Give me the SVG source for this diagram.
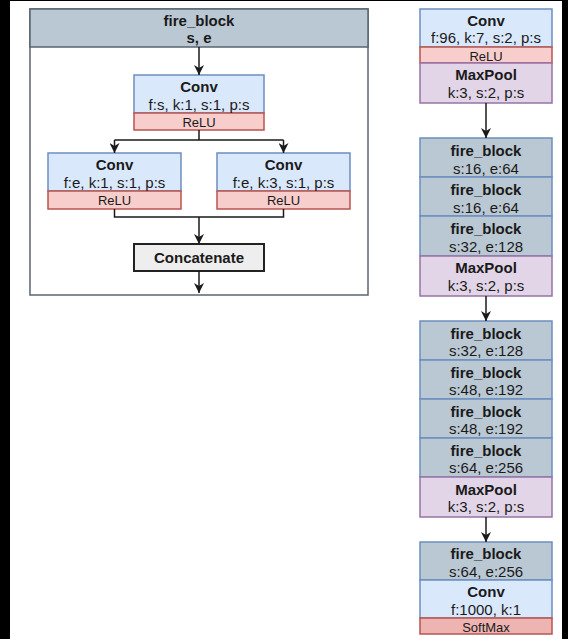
<svg xmlns="http://www.w3.org/2000/svg" width="568" height="639" viewBox="0 0 568 639">
  <style>
    text { font-family: "Liberation Sans", Arial, sans-serif; fill: #1a1a1a; text-anchor: middle; }
    .t { font-size: 15px; }
    .b { font-size: 15px; font-weight: bold; }
    .s { font-size: 13px; }
    .conv { fill: #dae8fc; stroke: #6c8ebf; stroke-width: 1.5; }
    .act { fill: #f8cecc; stroke: #b85450; stroke-width: 1.5; }
    .soft { fill: #eeb4b2; stroke: #b85450; stroke-width: 1.5; }
    .pool { fill: #e1d5e7; stroke: #9673a6; stroke-width: 1.5; }
    .fire { fill: #bac8d3; stroke: #6c8ebf; stroke-width: 1.5; }
    .cat { fill: #eeeeee; stroke: #222222; stroke-width: 2; }
    .edge { fill: none; stroke: #1a1a1a; stroke-width: 1.5; }
  </style>
  <defs>
    <marker id="arrow" markerUnits="userSpaceOnUse" markerWidth="10" markerHeight="10" refX="10" refY="5" orient="auto">
      <path d="M0,0 L10,5 L0,10 L3,5 z" fill="#1a1a1a"/>
    </marker>
  </defs>

  <!-- frame -->
  <rect x="0" y="0" width="568" height="639" fill="#000000"/>
  <rect x="10" y="1" width="552" height="638" fill="#ffffff"/>

  <!-- fire_block definition panel -->
  <g id="fire_block_def">
    <rect x="30" y="9" width="338" height="286" fill="#ffffff" stroke="#5a6470" stroke-width="1.5"/>
    <rect x="30" y="9" width="338" height="38" fill="#bac8d3" stroke="#5a6470" stroke-width="1.5"/>
    <text class="b" x="199" y="26">fire_block</text>
    <text class="b" x="199" y="43">s, e</text>
  </g>

  <g id="squeeze_conv">
    <rect class="conv" x="134" y="75" width="130" height="38"/>
    <rect class="act" x="134" y="113" width="130" height="17"/>
    <text class="b" x="199" y="92">Conv</text>
    <text class="t" x="199" y="109.5">f:s, k:1, s:1, p:s</text>
    <text class="s" x="199" y="127">ReLU</text>
  </g>

  <g id="expand_conv_1x1">
    <rect class="conv" x="48" y="153" width="133" height="38"/>
    <rect class="act" x="48" y="191" width="133" height="18"/>
    <text class="b" x="114.5" y="170">Conv</text>
    <text class="t" x="114.5" y="187.5">f:e, k:1, s:1, p:s</text>
    <text class="s" x="114.5" y="205">ReLU</text>
  </g>

  <g id="expand_conv_3x3">
    <rect class="conv" x="217" y="153" width="133" height="38"/>
    <rect class="act" x="217" y="191" width="133" height="18"/>
    <text class="b" x="283.5" y="170">Conv</text>
    <text class="t" x="283.5" y="187.5">f:e, k:3, s:1, p:s</text>
    <text class="s" x="283.5" y="205">ReLU</text>
  </g>

  <g id="concatenate">
    <rect class="cat" x="134" y="244" width="130" height="27"/>
    <text class="b" x="199" y="263">Concatenate</text>
  </g>

  <!-- network stack -->
  <g id="stem">
    <rect class="conv" x="420" y="9" width="132" height="38"/>
    <rect class="act" x="420" y="47" width="132" height="16"/>
    <rect class="pool" x="420" y="63" width="132" height="40"/>
    <text class="b" x="486" y="26">Conv</text>
    <text class="t" x="486" y="43">f:96, k:7, s:2, p:s</text>
    <text class="s" x="486" y="60.5">ReLU</text>
    <text class="b" x="486" y="80">MaxPool</text>
    <text class="t" x="486" y="97.5">k:3, s:2, p:s</text>
  </g>

  <g id="stage2">
    <rect class="fire" x="420" y="138" width="132" height="39"/>
    <rect class="fire" x="420" y="177" width="132" height="39"/>
    <rect class="fire" x="420" y="216" width="132" height="40"/>
    <rect class="pool" x="420" y="256" width="132" height="40"/>
    <text class="b" x="486" y="156">fire_block</text>
    <text class="t" x="486" y="173.5">s:16, e:64</text>
    <text class="b" x="486" y="195">fire_block</text>
    <text class="t" x="486" y="212.5">s:16, e:64</text>
    <text class="b" x="486" y="234">fire_block</text>
    <text class="t" x="486" y="251.5">s:32, e:128</text>
    <text class="b" x="486" y="273">MaxPool</text>
    <text class="t" x="486" y="290.5">k:3, s:2, p:s</text>
  </g>

  <g id="stage3">
    <rect class="fire" x="420" y="321" width="132" height="39"/>
    <rect class="fire" x="420" y="360" width="132" height="39"/>
    <rect class="fire" x="420" y="399" width="132" height="39"/>
    <rect class="fire" x="420" y="438" width="132" height="39"/>
    <rect class="pool" x="420" y="477" width="132" height="40"/>
    <text class="b" x="486" y="338.5">fire_block</text>
    <text class="t" x="486" y="356">s:32, e:128</text>
    <text class="b" x="486" y="377.5">fire_block</text>
    <text class="t" x="486" y="395">s:48, e:192</text>
    <text class="b" x="486" y="416.5">fire_block</text>
    <text class="t" x="486" y="434">s:48, e:192</text>
    <text class="b" x="486" y="455.5">fire_block</text>
    <text class="t" x="486" y="473">s:64, e:256</text>
    <text class="b" x="486" y="494.5">MaxPool</text>
    <text class="t" x="486" y="512">k:3, s:2, p:s</text>
  </g>

  <g id="head">
    <rect class="fire" x="420" y="542" width="132" height="38"/>
    <rect class="conv" x="420" y="580" width="132" height="38"/>
    <rect class="soft" x="420" y="618" width="132" height="16"/>
    <text class="b" x="486" y="559">fire_block</text>
    <text class="t" x="486" y="576.5">s:64, e:256</text>
    <text class="b" x="486" y="597">Conv</text>
    <text class="t" x="486" y="614.5">f:1000, k:1</text>
    <text class="s" x="486" y="632">SoftMax</text>
  </g>

  <!-- connectors -->
  <g id="connectors">
    <path class="edge" d="M199,47 V75" marker-end="url(#arrow)"/>
    <path class="edge" d="M199,130 V140 M114.5,140 H283.5"/>
    <path class="edge" d="M114.5,140 V153" marker-end="url(#arrow)"/>
    <path class="edge" d="M283.5,140 V153" marker-end="url(#arrow)"/>
    <path class="edge" d="M114.5,209 V217 H283.5 V209"/>
    <path class="edge" d="M199,217 V244" marker-end="url(#arrow)"/>
    <path class="edge" d="M199,271 V293" marker-end="url(#arrow)"/>
    <path class="edge" d="M486,103 V138" marker-end="url(#arrow)"/>
    <path class="edge" d="M486,296 V321" marker-end="url(#arrow)"/>
    <path class="edge" d="M486,517 V542" marker-end="url(#arrow)"/>
  </g>
</svg>
